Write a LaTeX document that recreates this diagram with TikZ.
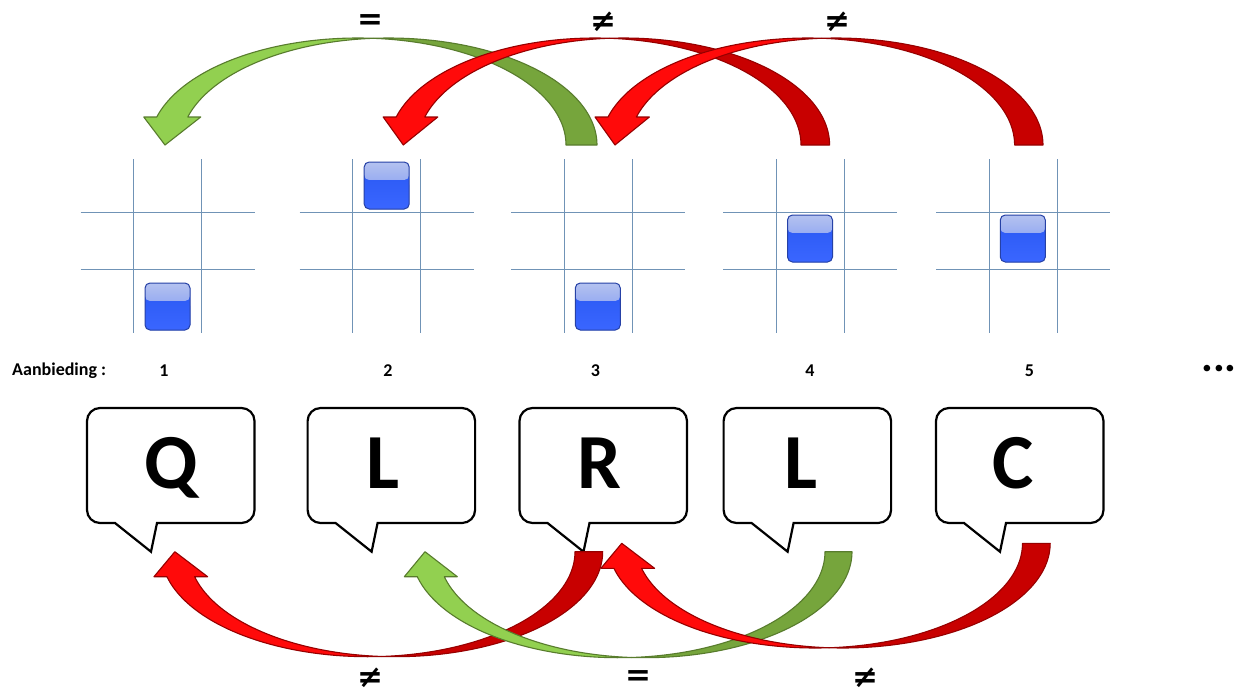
\documentclass[tikz,border=0pt]{standalone}
\usepackage{fontspec}
\setmainfont{Carlito}
\newfontfamily\symfont{DejaVu Sans}
\usetikzlibrary{calc}
\definecolor{gridblue}{HTML}{7093B6}
\definecolor{lgreen}{HTML}{92D050}
\definecolor{dgreen}{HTML}{76A53C}
\definecolor{lred}{HTML}{FF0A0A}
\definecolor{dred}{HTML}{C80000}
\definecolor{sqedge}{HTML}{2641A6}
\definecolor{sqtop}{HTML}{B4C2F0}
\definecolor{sqmid}{HTML}{6F8CF2}
\definecolor{sqblue}{HTML}{2F5DF7}
\definecolor{sqbot}{HTML}{3A66FF}

% ribbon arrow: cx rx ry w cy s dh light dark
\newcommand{\ribbonarrow}[9]{%
  \pgfmathsetmacro\rcx{#1}\pgfmathsetmacro\rrx{#2}\pgfmathsetmacro\rry{#3}%
  \pgfmathsetmacro\rw{#4}\pgfmathsetmacro\rcy{#5}\pgfmathsetmacro\rs{#6}%
  \pgfmathsetmacro\rdh{#7}%
  \pgfmathsetmacro\rth{180-asin(\rdh/\rry)}%
  \pgfmathsetmacro\rta{acos(\rw/(2*\rrx))}%
  \pgfmathsetmacro\rtb{180-\rta}%
  \pgfmathsetmacro\rhy{\rcy-\rs*\rdh}%
  \pgfmathsetmacro\rxah{\rcx+\rrx*cos(\rth)}%
  \pgfmathsetmacro\rxbh{\rxah+\rw}%
  \pgfmathsetmacro\rtipx{\rcx-\rrx+\rw/2}%
  \filldraw[fill=#8, draw=#9!75!black, line width=1.1pt, line join=round]
    plot[domain=\rtb:\rth, samples=60] ({\rcx+\rw+\rrx*cos(\x)},{\rcy-\rs*\rry*sin(\x)})
    -- ({\rxbh+13},\rhy) -- (\rtipx,\rcy) -- ({\rxah-13},\rhy)
    -- plot[domain=\rth:\rta, samples=60] ({\rcx+\rrx*cos(\x)},{\rcy-\rs*\rry*sin(\x)}) -- cycle;
  \filldraw[fill=#9, draw=#9!75!black, line width=1.1pt, line join=round]
    plot[domain=0:\rtb, samples=60] ({\rcx+\rw+\rrx*cos(\x)},{\rcy-\rs*\rry*sin(\x)})
    -- plot[domain=\rta:0, samples=60] ({\rcx+\rrx*cos(\x)},{\rcy-\rs*\rry*sin(\x)}) -- cycle;
}

% speech bubble: left x
\newcommand{\speechbubble}[1]{%
  \pgfmathsetmacro\bx{#1}%
  \draw[bubble] ({\bx+28},523) -- ({\bx+64},551.7) -- ({\bx+70},523)
    -- ({\bx+167.5-13},523) arc[start angle=90, end angle=0, radius=13]
    -- ({\bx+167.5},421) arc[start angle=0, end angle=-90, radius=13]
    -- ({\bx+13},408) arc[start angle=-90, end angle=-180, radius=13]
    -- (\bx,510) arc[start angle=180, end angle=90, radius=13] -- cycle;
}

\tikzset{
  gridline/.style={draw=gridblue, line width=1pt},
  bluesq/.style={draw=sqedge, line width=1pt, rounded corners=5pt,
    minimum width=45pt, minimum height=47pt, inner sep=0pt, fill=sqblue,
    path picture={
      \shade[top color=sqtop, bottom color=sqmid]
        (path picture bounding box.north west) rectangle ($(path picture bounding box.north east)+(0,18)$);
      \shade[top color=sqblue, bottom color=sqbot]
        ($(path picture bounding box.north west)+(0,18)$) rectangle (path picture bounding box.south east);
    }},
  bubble/.style={draw=black, fill=white, line width=2.2pt, line join=miter},
  letter/.style={font=\fontsize{78}{78}\selectfont\bfseries, anchor=base, inner sep=0pt},
  numlbl/.style={font=\fontsize{18}{18}\selectfont\bfseries, inner sep=0pt},
  rel/.style={font=\fontsize{31}{31}\selectfont\symfont\bfseries, inner sep=0pt}
}

\begin{document}
\begin{tikzpicture}[x=1pt, y=-1pt]
\useasboundingbox[fill=white] (0,0) rectangle (1240,699);

% grids
\foreach \g in {167.5, 386.5, 598, 810, 1023} {
  \draw[gridline] (\g-34,159) -- (\g-34,333);
  \draw[gridline] (\g+34,159) -- (\g+34,333);
  \draw[gridline] (\g-87,212) -- (\g+87,212);
  \draw[gridline] (\g-87,269.5) -- (\g+87,269.5);
}

% blue squares
\node[bluesq] (s1) at (167.5,306.5) {};
\node[bluesq] (s2) at (386.7,185.5) {};
\node[bluesq] (s3) at (597.8,306.5) {};
\node[bluesq] (s4) at (810,238.5) {};
\node[bluesq] (s5) at (1022.8,238.5) {};

% labels
\node[numlbl, anchor=west] (aanb) at (12,371) {Aanbieding :};
\node[numlbl] (n1) at (164,371) {1};
\node[numlbl] (n2) at (388,371) {2};
\node[numlbl] (n3) at (595.5,371) {3};
\node[numlbl] (n4) at (810,371) {4};
\node[numlbl] (n5) at (1029.5,371) {5};
\node[font=\fontsize{44}{44}\selectfont\bfseries, inner sep=0pt] (dots) at (1219,369) {...};

% bubbles
\speechbubble{87}
\speechbubble{307.6}
\speechbubble{519.5}
\speechbubble{723.6}
\speechbubble{936}
\node[letter] (lq) at (171.5,488) {Q};
\node[letter] (ll2) at (383,488) {L};
\node[letter] (lr) at (599,488) {R};
\node[letter] (ll4) at (801,488) {L};
\node[letter] (lc) at (1013.5,488) {C};

% top arrows
\ribbonarrow{357.75}{208.25}{107}{31}{145}{1}{28}{lgreen}{dgreen}
\ribbonarrow{595}{206}{107}{28.6}{145}{1}{28}{lred}{dred}
\ribbonarrow{807.7}{206.9}{107}{28.4}{145}{1}{28}{lred}{dred}

% bottom arrows
\ribbonarrow{368}{207}{105}{27.7}{551.7}{-1}{25}{lred}{dred}
\ribbonarrow{618.25}{206.75}{106}{27}{551.7}{-1}{25}{lgreen}{dgreen}
\ribbonarrow{815.2}{207.3}{104.7}{27.7}{543.3}{-1}{25}{lred}{dred}

% relation labels
\node[rel] (t1) at (370,22) {=};
\node[rel] (t2) at (603,22) {≠};
\node[rel] (t3) at (837.5,22) {≠};
\node[rel] (b1) at (370,678) {≠};
\node[rel] (b2) at (638,678) {=};
\node[rel] (b3) at (865,678) {≠};
\end{tikzpicture}
\end{document}
